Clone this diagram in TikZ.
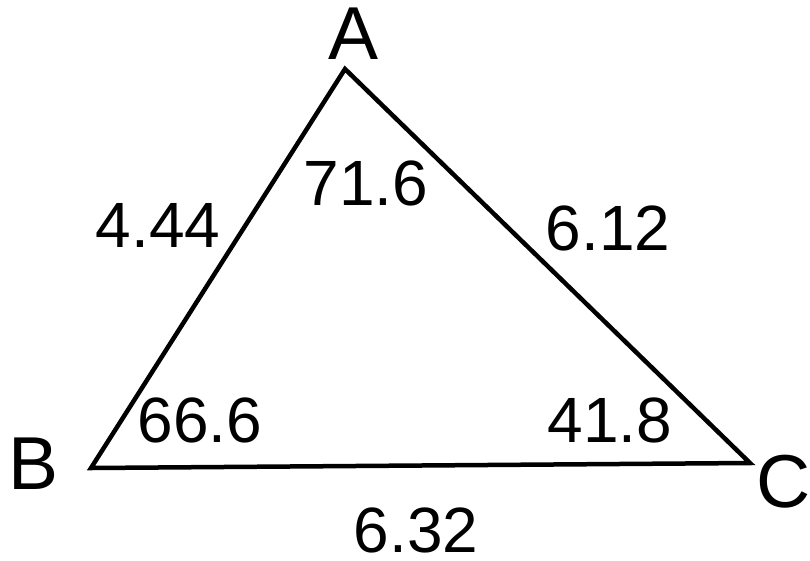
\documentclass[tikz,border=0pt]{standalone}
\usepackage{fontspec}
\setmainfont{Liberation Sans}
\begin{document}
\begin{tikzpicture}[x=1pt,y=-1pt,
  lbl/.style={inner sep=0pt,font=\fontsize{75}{80}\selectfont},
  num/.style={inner sep=0pt,font=\fontsize{64}{70}\selectfont},
  edge/.style={line width=4.5pt,line join=miter}]
\useasboundingbox (0,0) rectangle (810,560);
\coordinate (A) at (345,69);
\coordinate (B) at (91,468);
\coordinate (C) at (750,463);
\draw[edge] (A) -- (C) -- (B) -- cycle;
\node[lbl] (tA) at (354,34) {A};
\node[lbl] (tB) at (34,464) {B};
\node[lbl] (tC) at (784,482) {C};
\node[num] (aA) at (366,183) {71.6};
\node[num] (aB) at (200,420) {66.6};
\node[num] (aC) at (610,420) {41.8};
\node[num] (sAB) at (158,225) {4.44};
\node[num] (sAC) at (608,228) {6.12};
\node[num] (sBC) at (416,530) {6.32};
\end{tikzpicture}
\end{document}
